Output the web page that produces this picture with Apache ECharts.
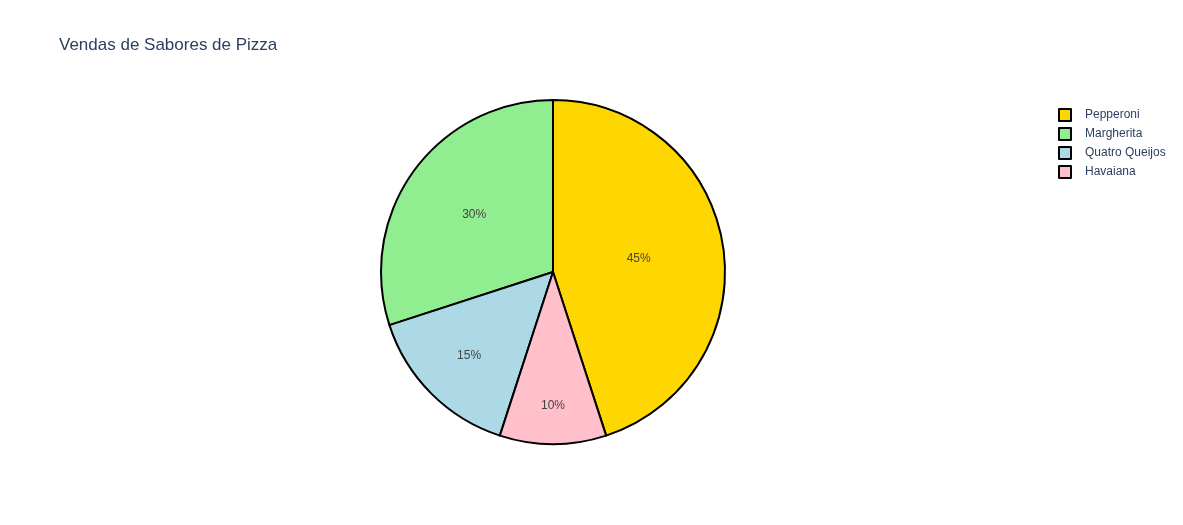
<!DOCTYPE html>
<html>
<head>
<meta charset="utf-8">
<script src="https://cdn.jsdelivr.net/npm/echarts@6/dist/echarts.min.js"></script>
<style>html,body{margin:0;padding:0;background:#fff}#chart{width:1183px;height:525px}</style>
</head>
<body>
<div id="chart"></div>
<script>
const categories = ['Pepperoni', 'Margherita', 'Quatro Queijos', 'Havaiana'];
const values = [45, 30, 15, 10];
const colors = ['#FFD700', '#90EE90', '#ADD8E6', '#FFC0CB'];

const FONT = '"Liberation Sans", Arial, sans-serif';
const CENTER = [553, 272];
const RADIUS = 172;
const total = values.reduce((a, b) => a + b, 0);
const maxShare = Math.max(...values) / total;

const chart = echarts.init(document.getElementById('chart'), null, {renderer: 'canvas'});
chart.setOption({
  animation: false,
  backgroundColor: '#ffffff',
  title: {
    text: 'Vendas de Sabores de Pizza',
    left: 59, top: 37, padding: 0,
    textStyle: {fontFamily: FONT, fontSize: 17, fontWeight: 'normal', color: '#2a3f5f'}
  },
  legend: {
    orient: 'vertical',
    left: 1058, top: 108, padding: 0,
    itemWidth: 12, itemHeight: 12, itemGap: 5,
    icon: 'rect',
    data: categories,
    textStyle: {fontFamily: FONT, fontSize: 12, color: '#2a3f5f', lineHeight: 12, padding: [0, 0, 0, 9]},
    itemStyle: {borderColor: '#000', borderWidth: 2}
  },
  series: [{
    type: 'pie',
    center: CENTER,
    radius: [0, RADIUS],
    startAngle: -72,
    clockwise: false,
    label: {
      show: true, position: 'inside',
      formatter: p => Math.round(p.percent) + '%',
      fontFamily: FONT, fontSize: 12, color: '#444'
    },
    labelLine: {show: false},
    // small slices push their text outward so it fits inside the wedge
    labelLayout: function (params) {
      const share = values[params.dataIndex] / total;
      const f = 0.975 * Math.pow(maxShare / share, 0.285);
      const r = params.labelRect;
      const vx = r.x + r.width / 2 - CENTER[0];
      const vy = r.y + r.height / 2 - CENTER[1];
      return {dx: vx * (f - 1), dy: vy * (f - 1)};
    },
    itemStyle: {borderColor: '#000', borderWidth: 2},
    emphasis: {disabled: true},
    data: categories.map((c, i) => ({name: c, value: values[i], itemStyle: {color: colors[i]}}))
  }]
});
</script>
</body>
</html>
